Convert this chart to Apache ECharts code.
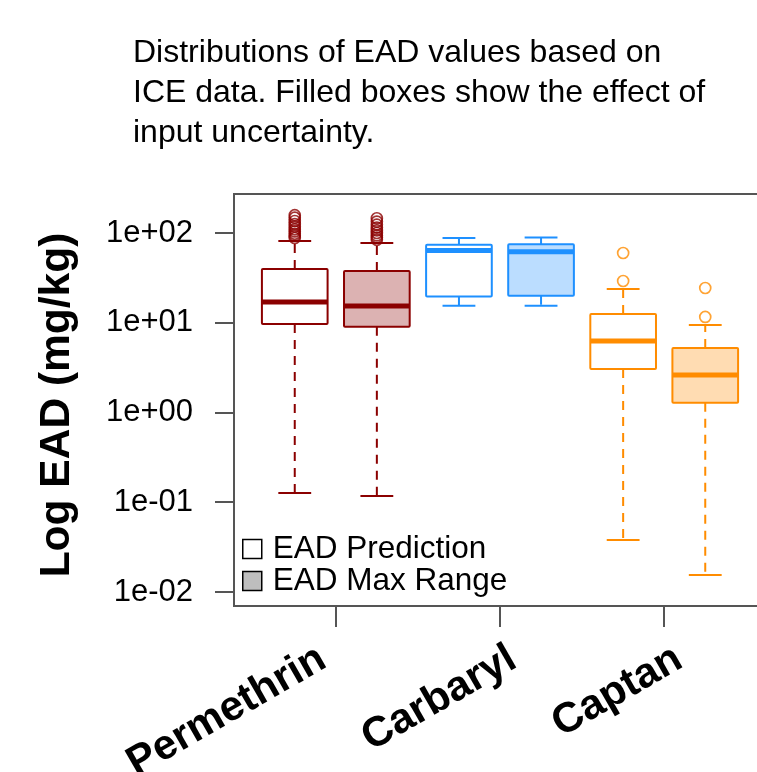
<!DOCTYPE html>
<html>
<head>
<meta charset="utf-8">
<script src="https://cdn.jsdelivr.net/npm/echarts@6/dist/echarts.min.js"></script>
<style>
html,body{margin:0;padding:0;background:#fff;}
#chart{width:757px;height:772px;}
</style>
</head>
<body>
<div id="chart"></div>
<script>
// ---- data ----
const categories = ['Permethrin', 'Carbaryl', 'Captan'];
const seriesNames = ['EAD Prediction', 'EAD Max Range'];
// [lower whisker, Q1, median, Q3, upper whisker]
const predStats = [
  [0.127, 9.7, 17.0, 39.7, 81.5],
  [15.5, 19.6, 64, 74, 88],
  [0.038, 3.05, 6.26, 12.5, 23.8]
];
const maxStats = [
  [0.117, 9.0, 15.4, 37.8, 77.4],
  [15.5, 20.0, 62, 75, 89],
  [0.0155, 1.28, 2.62, 5.23, 9.44]
];
const predOutliers = [
  [88, 93, 98, 104, 110, 118, 126, 136, 148, 158],
  [],
  [29.2, 59.9]
];
const maxOutliers = [
  [84, 89, 94, 100, 107, 115, 124, 134, 146],
  [],
  [11.6, 24.4]
];
const yTicks = [0.01, 0.1, 1, 10, 100];
const colors = ['#8B0000', '#1E90FF', '#FF8C00'];
const fills = ['rgba(139,0,0,0.3)', 'rgba(30,144,255,0.3)', 'rgba(255,140,0,0.3)'];

// ---- build ----
const FONT = "'Liberation Sans', Arial, sans-serif";
function boxData(stats, offset) {
  return stats.map((s, i) => [2 * i + offset].concat(s).concat([i]));
}
function outlierData(outs, offset) {
  const arr = [];
  outs.forEach((list, i) => {
    list.forEach(v => arr.push({
      value: [2 * i + offset, v],
      itemStyle: { color: 'rgba(0,0,0,0)', borderColor: colors[i], borderWidth: 1.7 }
    }));
  });
  return arr;
}
function makeRender(filled) {
  return function (params, api) {
    const x = api.value(0);
    const lo = api.value(1), q1 = api.value(2), med = api.value(3), q3 = api.value(4), hi = api.value(5);
    const ci = api.value(6);
    const col = colors[ci];
    const pMed = api.coord([x, med]);
    const cx = pMed[0];
    const halfW = api.coord([x + 0.4, med])[0] - cx;
    const capW = halfW / 2;
    const yLo = api.coord([x, lo])[1], yQ1 = api.coord([x, q1])[1];
    const yQ3 = api.coord([x, q3])[1], yHi = api.coord([x, hi])[1];
    const dash = { stroke: col, lineWidth: 2, lineDash: [9, 7] };
    const solid = { stroke: col, lineWidth: 2 };
    return {
      type: 'group',
      children: [
        { type: 'line', shape: { x1: cx, y1: yQ3, x2: cx, y2: yHi }, style: dash },
        { type: 'line', shape: { x1: cx, y1: yQ1, x2: cx, y2: yLo }, style: dash },
        { type: 'line', shape: { x1: cx - capW, y1: yHi, x2: cx + capW, y2: yHi }, style: solid },
        { type: 'line', shape: { x1: cx - capW, y1: yLo, x2: cx + capW, y2: yLo }, style: solid },
        { type: 'rect', shape: { x: cx - halfW, y: yQ3, width: 2 * halfW, height: yQ1 - yQ3, r: 1 },
          style: { fill: filled ? fills[ci] : '#ffffff', stroke: col, lineWidth: 2 } },
        { type: 'line', shape: { x1: cx - halfW, y1: pMed[1], x2: cx + halfW, y2: pMed[1] },
          style: { stroke: col, lineWidth: 5 } }
      ]
    };
  };
}
function fmtLog(v) {
  const e = Math.round(Math.log10(v));
  return '1e' + (e < 0 ? '-' : '+') + String(Math.abs(e)).padStart(2, '0');
}
const xTickVals = categories.map((c, i) => 2 * i + 1.5);
const xLabelVals = [1.34, 3.66, 5.68];

const chart = echarts.init(document.getElementById('chart'), null, { renderer: 'canvas' });
chart.setOption({
  animation: false,
  backgroundColor: '#ffffff',
  title: {
    text: 'Distributions of EAD values based on\nICE data. Filled boxes show the effect of\ninput uncertainty.',
    left: 133, top: 33, padding: 0,
    textStyle: { fontFamily: FONT, fontSize: 32, fontWeight: 'normal', color: '#000', lineHeight: 40 }
  },
  legend: {
    orient: 'vertical', left: 242, top: 533, padding: 0,
    itemWidth: 19, itemHeight: 19, itemGap: 0, selectedMode: false,
    textStyle: { fontFamily: FONT, fontSize: 31.5, color: '#000', lineHeight: 32, padding: [0, 0, 0, 6] },
    data: [
      { name: seriesNames[0], icon: 'rect', itemStyle: { color: '#ffffff', borderColor: '#000', borderWidth: 1.5 } },
      { name: seriesNames[1], icon: 'rect', itemStyle: { color: '#bebebe', borderColor: '#000', borderWidth: 1.5 } }
    ]
  },
  grid: {
    left: 234, top: 194, right: -9, bottom: 166,
    containLabel: false, outerBoundsMode: 'none',
    show: true, borderColor: '#555', borderWidth: 2, backgroundColor: 'transparent'
  },
  xAxis: {
    type: 'value', min: 0.26, max: 6.74,
    splitLine: { show: false },
    axisLine: { show: false },
    axisTick: { show: true, customValues: xTickVals, length: 21, lineStyle: { color: '#555', width: 2 } },
    axisLabel: {
      show: true, customValues: xLabelVals, rotate: 30, margin: 50,
      fontFamily: FONT, fontSize: 42, fontWeight: 'bold', color: '#000',
      formatter: v => categories[Math.round((v - 1.5) / 2)]
    }
  },
  yAxis: {
    type: 'log', logBase: 10, min: 0.00698, max: 272,
    name: 'Log EAD (mg/kg)', nameLocation: 'middle', nameRotate: 90, nameGap: 155,
    nameTextStyle: { fontFamily: FONT, fontSize: 42.5, fontWeight: 'bold', color: '#000', padding: [0, 10, 0, 0] },
    splitLine: { show: false },
    axisLine: { show: false },
    axisTick: { show: true, customValues: yTicks, length: 19, lineStyle: { color: '#555', width: 2 } },
    axisLabel: {
      show: true, customValues: yTicks, margin: 41,
      fontFamily: FONT, fontSize: 31, color: '#000',
      formatter: fmtLog
    }
  },
  series: [
    {
      name: seriesNames[0], type: 'custom', renderItem: makeRender(false),
      itemStyle: { color: '#ffffff', borderColor: '#000' },
      encode: { x: 0, y: [1, 2, 3, 4, 5] },
      data: boxData(predStats, 1), z: 2
    },
    {
      name: seriesNames[1], type: 'custom', renderItem: makeRender(true),
      itemStyle: { color: '#bebebe', borderColor: '#000' },
      encode: { x: 0, y: [1, 2, 3, 4, 5] },
      data: boxData(maxStats, 2), z: 2
    },
    {
      name: 'pred outliers', type: 'scatter', symbol: 'circle', symbolSize: 11,
      data: outlierData(predOutliers, 1), z: 3
    },
    {
      name: 'max outliers', type: 'scatter', symbol: 'circle', symbolSize: 11,
      data: outlierData(maxOutliers, 2), z: 3
    }
  ]
});
</script>
</body>
</html>
